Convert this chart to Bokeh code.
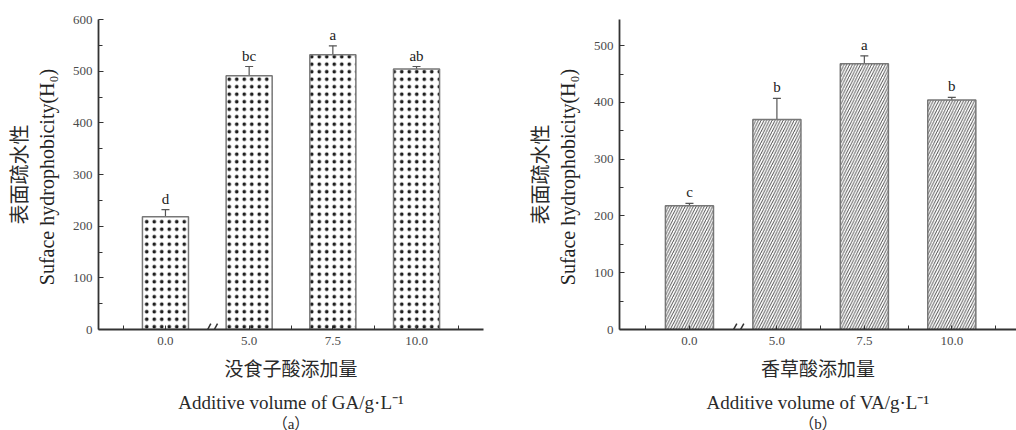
from bokeh.plotting import figure
from bokeh.layouts import row
from bokeh.models import (ColumnDataSource, FixedTicker, Whisker, TeeHead, Title,
                          Range1d, Arrow)
from bokeh.core.properties import value
from bokeh.embed import file_html
from bokeh.resources import INLINE

# --- data -------------------------------------------------------------
dose_labels = ["0.0", "5.0", "7.5", "10.0"]

ga_h0 = [218, 491, 532, 504]
ga_err = [14, 18, 17, 5]
ga_sig = ["d", "bc", "a", "ab"]

va_h0 = [218, 370, 468, 404]
va_err = [4, 37, 14, 5]
va_sig = ["c", "b", "a", "b"]

SERIF = "Liberation Serif"
MIXED = "Liberation Serif, Noto Sans CJK SC"
CJK = "Noto Sans CJK SC"
AXIS_COLOR = "#333333"
TICK_TEXT = "#4a4a4a"
LABEL_TEXT = "#222222"


def panel(values, errs, sigs, ymax, yticks, cn_x, en_x, tag, hatch, hatch_scale,
          hatch_weight, frame_w, border_left, border_right, xend, shift):
    pos = list(range(len(dose_labels)))
    src = ColumnDataSource(dict(
        x=pos,
        top=values,
        upper=[v + e for v, e in zip(values, errs)],
        lower=[v - e for v, e in zip(values, errs)],
        sig=sigs,
    ))

    p = figure(frame_width=frame_w, frame_height=310, output_backend="svg",
               toolbar_location=None,
               x_range=Range1d(-0.8, xend), y_range=Range1d(0, ymax),
               min_border_left=border_left, min_border_right=border_right,
               min_border_top=19, min_border_bottom=0)
    p.outline_line_color = None
    p.xgrid.visible = False
    p.ygrid.visible = False
    p.background_fill_color = "white"
    p.border_fill_color = "white"

    p.vbar(x="x", top="top", width=0.55, source=src, fill_color="white",
           line_color="#777777", line_width=1.5, hatch_pattern=hatch,
           hatch_scale=hatch_scale, hatch_weight=hatch_weight,
           hatch_color="#1e1e1e")

    head = dict(size=8, line_color="#555555", line_width=1.2)
    p.add_layout(Whisker(source=src, base="x", upper="upper", lower="lower",
                         line_color="#555555", line_width=1.2,
                         upper_head=TeeHead(**head), lower_head=TeeHead(**head)))

    p.text(x="x", y="upper", text="sig", source=src, text_align="center",
           text_baseline="bottom", y_offset=-3, text_font=value(SERIF),
           text_font_size="15px", text_color=LABEL_TEXT)

    # axis break marks between the control and the first dose
    bx = (pos[0] + pos[1]) / 2 + 0.04
    dx, dy = 0.042, ymax * 0.021
    gap = 0.08
    brk = ColumnDataSource(dict(
        x0=[bx - gap / 2 - dx, bx + gap / 2 - dx],
        y0=[-dy * 1.1, -dy * 1.1],
        x1=[bx - gap / 2 + dx, bx + gap / 2 + dx],
        y1=[dy * 0.9, dy * 0.9],
    ))
    p.add_layout(Arrow(source=brk, x_start="x0", y_start="y0", x_end="x1",
                       y_end="y1", start=None, end=None,
                       line_color=AXIS_COLOR, line_width=1.5))

    # x axis
    xa = p.xaxis[0]
    xa.ticker = FixedTicker(ticks=pos,
                            minor_ticks=[pos[0] - 0.5] + [q + 0.5 for q in pos[1:]])
    xa.major_label_overrides = {q: lab for q, lab in zip(pos, dose_labels)}
    xa.axis_line_color = AXIS_COLOR
    xa.axis_line_width = 1.8
    xa.major_tick_in, xa.major_tick_out = 4, 0
    xa.minor_tick_in, xa.minor_tick_out = 4, 0
    xa.major_tick_line_color = AXIS_COLOR
    xa.minor_tick_line_color = AXIS_COLOR
    xa.major_label_text_font = SERIF
    xa.major_label_text_font_size = "13px"
    xa.major_label_text_color = TICK_TEXT
    xa.major_label_standoff = 7

    # y axis
    ya = p.yaxis[0]
    ya.ticker = FixedTicker(ticks=yticks,
                            minor_ticks=[t + 50 for t in yticks if t + 50 < ymax])
    ya.axis_line_color = AXIS_COLOR
    ya.axis_line_width = 1.8
    ya.major_tick_in, ya.major_tick_out = 5, 0
    ya.minor_tick_in, ya.minor_tick_out = 4, 0
    ya.major_tick_line_color = AXIS_COLOR
    ya.minor_tick_line_color = AXIS_COLOR
    ya.major_label_text_font = SERIF
    ya.major_label_text_font_size = "13px"
    ya.major_label_text_color = TICK_TEXT
    ya.major_label_standoff = 6
    ya.axis_label = "Suface  hydrophobicity(H\u2080)"
    ya.axis_label_text_font = SERIF
    ya.axis_label_text_font_style = "normal"
    ya.axis_label_text_font_size = "20px"
    ya.axis_label_text_color = LABEL_TEXT
    ya.axis_label_standoff = 12

    p.add_layout(Title(text="表面疏水性", align="center", text_font=CJK,
                       text_font_style="normal", text_font_size="20px",
                       text_color="#2a2a2a", standoff=0), "left")

    # caption lines under the x axis
    for txt, size, so in [(cn_x, "19px", 19),
                          (en_x, "19px", 0),
                          (tag, "15px", 3)]:
        p.add_layout(Title(text=txt, align="center", text_font=MIXED,
                           text_font_style="normal", text_font_size=size,
                           text_color="#2a2a2a", standoff=so, offset=shift),
                     "below")
    return p


pa = panel(ga_h0, ga_err, ga_sig, 600, list(range(0, 601, 100)),
           "没食子酸添加量", "Additive volume of GA/g·L\u207b\u00b9", "（a）",
           ".", 7.5, 0.4, 385, 98, 25, 3.8, -7)
pb = panel(va_h0, va_err, va_sig, 546, list(range(0, 501, 100)),
           "香草酸添加量", "Additive volume of VA/g·L\u207b\u00b9", "（b）",
           "/", 5.5, 0.8, 397, 111, 0, 3.74, 2)

layout = row(pa, pb)
open("out.html", "w").write(file_html(layout, INLINE))
